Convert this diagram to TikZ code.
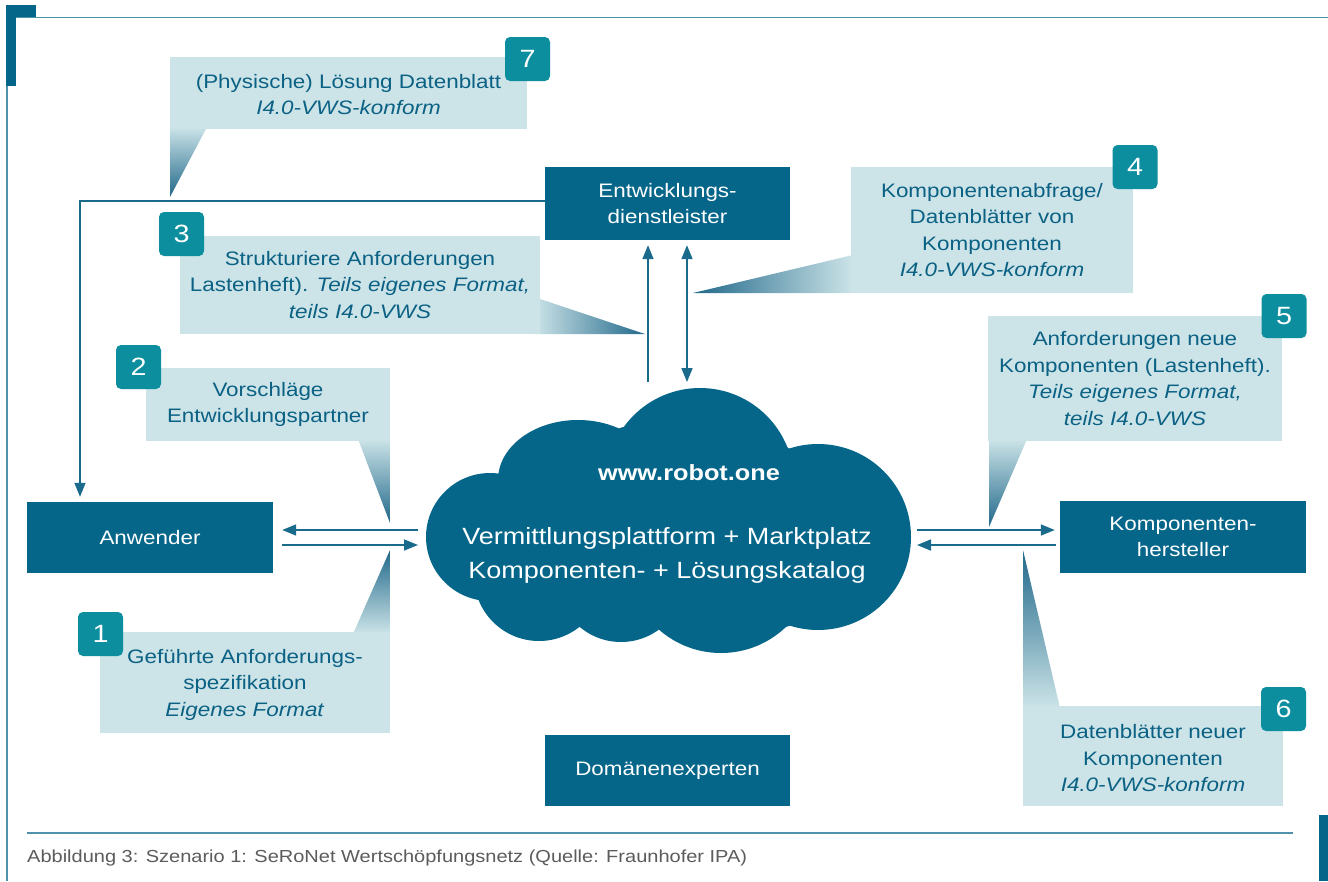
\documentclass[tikz,border=0pt]{standalone}
\usepackage{fontspec}
\setmainfont[FakeStretch=1.15]{Liberation Sans}
\usetikzlibrary{arrows.meta,calc}
\definecolor{dk}{HTML}{05668A}
\definecolor{lt}{HTML}{CCE4E8}
\definecolor{tx}{HTML}{0B6184}
\definecolor{bd}{HTML}{0C8E9E}
\definecolor{ln}{HTML}{1A6A8C}
\definecolor{pt}{HTML}{21688A}
\definecolor{capc}{HTML}{5C5C5C}
\definecolor{rulec}{HTML}{4E93AB}
\begin{document}
\begin{tikzpicture}[x=1pt,y=-1pt,
  box/.style={fill=dk,text=white,inner sep=0pt,minimum width=246pt,minimum height=72pt,align=center,font=\fontsize{19.5}{26}\selectfont},
  callout/.style={fill=lt,text=tx,inner sep=0pt,align=center,font=\fontsize{19.5}{26.5}\selectfont},
  badge/.style={fill=bd,text=white,rounded corners=5pt,minimum width=45pt,minimum height=44pt,inner sep=0pt,font=\fontsize{25}{25}\selectfont},
  arr/.style={draw=ln,line width=1.6pt,-{Triangle[length=14pt,width=11pt]}},
  darr/.style={draw=ln,line width=1.6pt,{Triangle[length=14pt,width=11pt]}-{Triangle[length=14pt,width=11pt]}},
  ptrv/.style={top color=lt,bottom color=pt},
  ptru/.style={top color=pt,bottom color=lt}]
\useasboundingbox (0,0) rectangle (1328,881);
\fill[white] (0,0) rectangle (1328,881);
% frame
\fill[dk] (6,5) rectangle (16,86);
\fill[dk] (6,5) rectangle (36,17);
\draw[rulec,line width=1.5pt] (16,17.5) -- (1328,17.5);
\draw[rulec,line width=1.2pt] (7,86) -- (7,881);
\draw[rulec,line width=1.5pt] (27,833) -- (1293,833);
\fill[dk] (1319,815) rectangle (1328,881);
\node[anchor=west,text=capc,font=\fontsize{17.4}{20}\selectfont,inner sep=0pt] (caption) at (27,858) {Abbildung 3: Szenario 1: SeRoNet Wertschöpfungsnetz (Quelle: Fraunhofer IPA)};

% cloud
\fill[dk] (490,537) circle[radius=64];
\fill[dk] (578,480) circle[x radius=80,y radius=60];
\fill[dk] (700,482) circle[radius=94];
\fill[dk] (818,537) circle[radius=93];
\fill[dk] (721,559) circle[radius=94];
\fill[dk] (621,578) circle[radius=64];
\fill[dk] (539,576) circle[radius=65];
\fill[dk] (502,472) -- (623,427) -- (787,447) -- (860,500) -- (860,600) -- (786,627) -- (659,628) -- (580,627) -- (480,600) -- (460,537) -- cycle;
\node[text=white,font=\bfseries\fontsize{22}{26}\selectfont,inner sep=0pt] (url) at (689,473) {www.robot.one};
\node[text=white,align=center,font=\fontsize{23.5}{34}\selectfont,inner sep=0pt] (cloud) at (667,555) {Vermittlungsplattform + Marktplatz\\Komponenten- + Lösungskatalog};

% boxes
\node[box,minimum width=245pt,minimum height=73pt] (ent) at (667.5,203.5) {Entwicklungs-\\dienstleister};
\node[box,minimum height=71pt] (anw) at (150,537.5) {Anwender};
\node[box] (komp) at (1183,537) {Komponenten-\\hersteller};
\node[box,minimum width=245pt,minimum height=71pt] (dom) at (667.5,770.5) {Domänenexperten};

% pointers
\shade[ptrv] (170,127) -- (207,127) -- (170,197) -- cycle;
\shade[left color=lt,right color=pt] (534,297) -- (645,334) -- (534,334) -- cycle;
\shade[left color=pt,right color=lt] (853,255) -- (693,293) -- (853,293) -- cycle;
\shade[ptrv] (358,439) -- (390,439) -- (390,523) -- cycle;
\shade[ptru] (390,550) -- (390,634) -- (353,634) -- cycle;
\shade[ptrv] (989,439) -- (1027,439) -- (989,527) -- cycle;
\shade[ptru] (1023,550) -- (1060,708) -- (1023,708) -- cycle;

% callouts
\node[callout,minimum width=357pt,minimum height=72pt] (c7) at (348.5,93) {\rule{0pt}{17pt}(Physische) Lösung Datenblatt\\\textit{I4.0-VWS-konform}};
\node[callout,minimum width=360pt,minimum height=98pt] (c3) at (360,285) {Strukturiere Anforderungen\\Lastenheft). \textit{Teils eigenes Format,}\\\textit{teils I4.0-VWS}};
\node[callout,minimum width=282pt,minimum height=126pt] (c4) at (992,230) {Komponentenabfrage/\\Datenblätter von\\Komponenten\\\textit{I4.0-VWS-konform}};
\node[callout,minimum width=244pt,minimum height=73pt] (c2) at (268,404.5) {Vorschläge\\Entwicklungspartner};
\node[callout,minimum width=290pt,minimum height=101pt] (c1) at (245,682.5) {\rule{0pt}{19pt}Geführte Anforderungs-\\spezifikation\\\textit{Eigenes Format}};
\node[callout,minimum width=294pt,minimum height=125pt] (c5) at (1135,378.5) {Anforderungen neue\\Komponenten (Lastenheft).\\\textit{Teils eigenes Format,}\\\textit{teils I4.0-VWS}};
\node[callout,minimum width=260pt,minimum height=100pt] (c6) at (1153,756) {\rule{0pt}{19pt}Datenblätter neuer\\Komponenten\\\textit{I4.0-VWS-konform}};

% badges
\node[badge] (b7) at (527.5,59) {7};
\node[badge] (b3) at (181.5,234) {3};
\node[badge] (b4) at (1135,167) {4};
\node[badge] (b2) at (138.5,367) {2};
\node[badge] (b1) at (100.5,634) {1};
\node[badge] (b5) at (1284,316) {5};
\node[badge] (b6) at (1283.5,709) {6};

% connectors
\coordinate (cL1) at (418,530);
\coordinate (cL2) at (418,545);
\coordinate (cR1) at (917,530);
\coordinate (cR2) at (917,545);
\coordinate (cT1) at (648,382);
\coordinate (cT2) at (687,382);
\draw[arr] (cL1) -- ($(anw.east |- cL1)+(9,0)$);
\draw[arr] ($(anw.east |- cL2)+(9,0)$) -- (cL2);
\draw[arr] (cR1) -- ($(komp.west |- cR1)+(-5,0)$);
\draw[arr] ($(komp.west |- cR2)+(-4,0)$) -- (cR2);
\draw[arr] (cT1) -- ($(cT1 |- ent.south)+(0,5)$);
\draw[darr] (cT2) -- ($(cT2 |- ent.south)+(0,5)$);
\draw[arr] ([yshift=2.5pt]ent.west) -| ($(anw.north)+(-70,-5)$);
\end{tikzpicture}
\end{document}
